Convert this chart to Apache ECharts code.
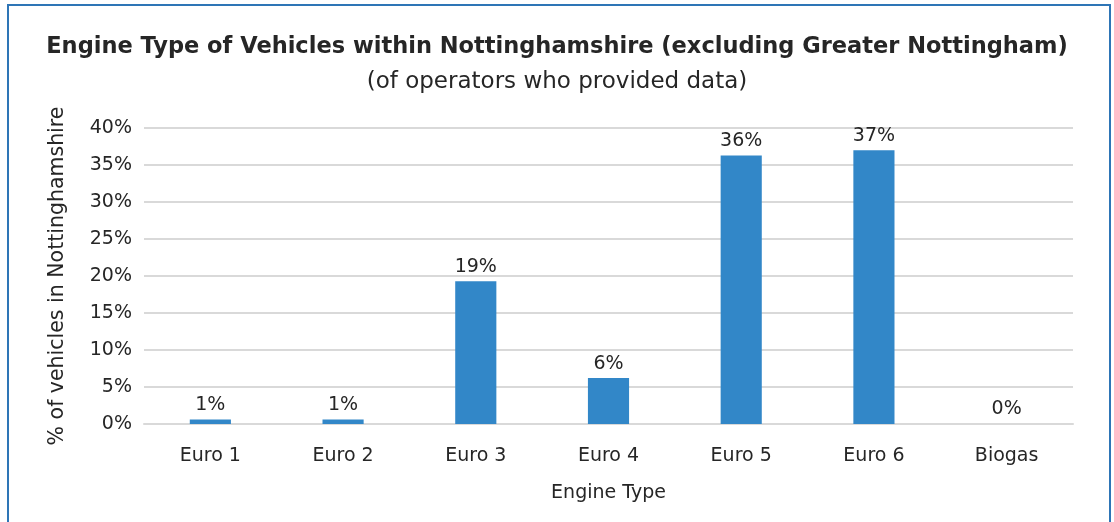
<!DOCTYPE html>
<html>
<head>
<meta charset="utf-8">
<script src="https://cdn.jsdelivr.net/npm/echarts@6/dist/echarts.min.js"></script>
<style>
  html, body { margin: 0; padding: 0; background: #fff; }
  #chart { width: 1114px; height: 522px; }
</style>
</head>
<body>
<div id="chart"></div>
<script>
var categories = ["Euro 1", "Euro 2", "Euro 3", "Euro 4", "Euro 5", "Euro 6", "Biogas"];
var shares = [0.6, 0.6, 19.3, 6.2, 36.3, 37.0, 0];
var yTicks = [0, 5, 10, 15, 20, 25, 30, 35, 40];

var chartDom = document.getElementById("chart");
var myChart = echarts.init(chartDom);
var font = "'DejaVu Sans', sans-serif";
var option;

option = {
  animation: false,
  textStyle: { fontFamily: font },
  title: [
    {
      text: "Engine Type of Vehicles within Nottinghamshire (excluding Greater Nottingham)",
      left: "center",
      top: 31,
      textStyle: { fontSize: 22.5, fontWeight: "bold", color: "#262626", fontFamily: font },
    },
    {
      text: "(of operators who provided data)",
      left: "center",
      top: 66,
      textStyle: { fontSize: 23, fontWeight: "normal", color: "#262626", fontFamily: font },
    },
  ],
  graphic: [
    {
      type: "rect",
      shape: { x: 8, y: 5, width: 1102, height: 540 },
      style: { fill: "none", stroke: "#2E75B6", lineWidth: 2 },
      silent: true,
    },
  ],
  grid: {
    left: 144,
    right: 41,
    top: 128,
    bottom: 98,
  },
  xAxis: {
    type: "category",
    data: categories,
    name: "Engine Type",
    nameLocation: "middle",
    nameGap: 60,
    nameTextStyle: { fontSize: 19, color: "#262626" },
    axisLine: { show: true, lineStyle: { color: "#D9D9D9", width: 2 } },
    axisTick: { show: false },
    axisLabel: { fontSize: 19, color: "#262626", margin: 23 },
  },
  yAxis: {
    type: "value",
    min: yTicks[0],
    max: yTicks[yTicks.length - 1],
    interval: 5,
    name: "% of vehicles in Nottinghamshire",
    nameLocation: "middle",
    nameGap: 76,
    nameTextStyle: { fontSize: 20.5, color: "#262626" },
    axisLine: { show: false },
    axisTick: { show: false },
    axisLabel: {
      fontSize: 19,
      color: "#262626",
      margin: 12,
      formatter: function (v) {
        return v + "%";
      },
    },
    splitLine: { lineStyle: { color: "#D9D9D9", width: 2 } },
  },
  series: [
    {
      type: "bar",
      data: shares,
      barWidth: "31%",
      itemStyle: { color: "#3287C8" },
      label: {
        show: true,
        position: "top",
        distance: 5,
        fontSize: 19,
        color: "#262626",
        formatter: function (p) {
          return Math.round(p.value) + "%";
        },
      },
    },
  ],
};

option && myChart.setOption(option);
</script>
</body>
</html>
